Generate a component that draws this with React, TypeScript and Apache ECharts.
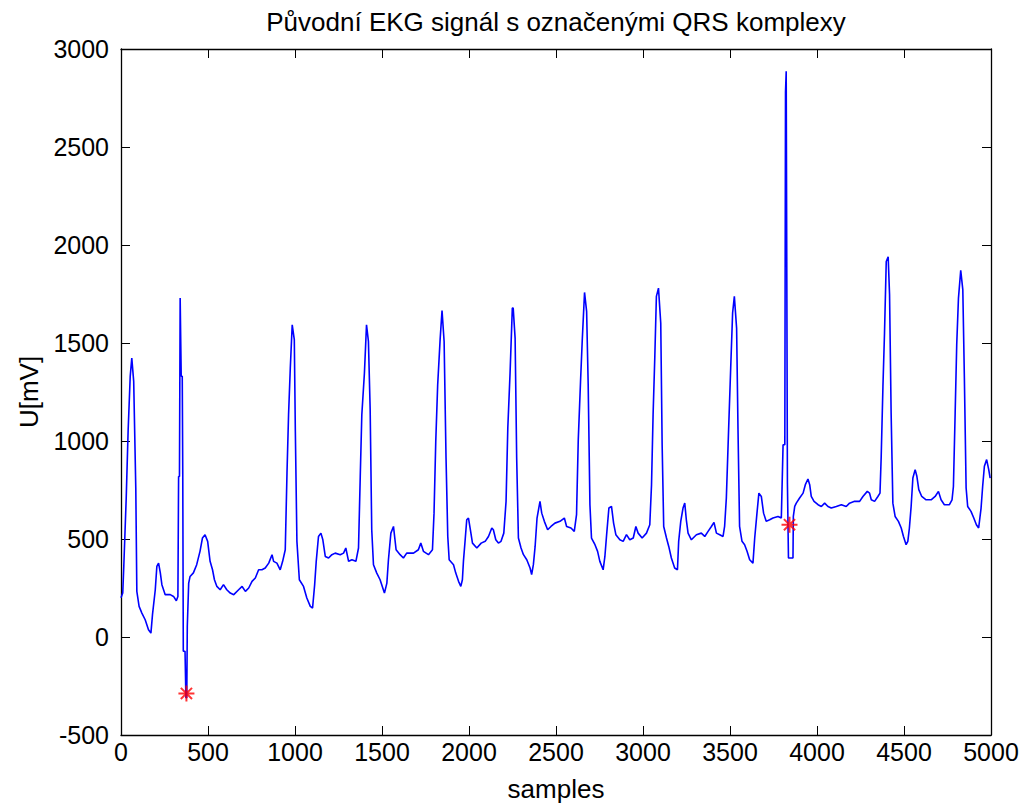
import React, { useEffect, useRef } from "react";
import * as echarts from "echarts";

// Signal (sample index, voltage in mV)
const sampleIdx = [
  0, 10, 16, 30, 41, 53, 62, 66, 73, 85, 91, 104, 120, 139, 158, 172, 181, 197, 206, 216, 226, 235, 254, 283, 302, 318, 327, 331, 336, 340, 346, 352, 355, 358, 368, 373, 378, 381, 389, 397, 416, 435, 454, 468, 483, 498, 512, 526, 537, 551, 570, 589, 608, 628,
  648, 676, 696, 715, 734, 753, 772, 791, 810, 829, 849, 868, 877, 896, 915, 929, 944, 954, 963, 973, 984, 988, 996, 1002, 1011, 1025, 1049, 1068, 1088, 1101, 1113, 1122, 1135, 1149, 1160, 1174, 1193, 1212, 1231,
  1260, 1279, 1292, 1308, 1327, 1350, 1365, 1375, 1384, 1399, 1411, 1415, 1422, 1432, 1441, 1451, 1470, 1489, 1514, 1528, 1537, 1551, 1566, 1581, 1604, 1623, 1642, 1681, 1709, 1723, 1738, 1767, 1790, 1799, 1809, 1820, 1834, 1845, 1849, 1857, 1868, 1878, 1886,
  1911, 1924, 1940, 1953, 1962, 1968, 1978, 1987, 1997, 2008, 2020, 2045, 2070, 2093, 2112, 2131, 2140, 2154, 2169, 2184, 2200, 2213, 2223, 2236, 2249, 2254, 2265, 2274, 2284, 2299, 2313, 2332, 2351, 2360, 2370, 2380, 2391, 2408, 2418, 2433, 2452, 2471, 2494, 2523,
  2548, 2561, 2586, 2605, 2618, 2628, 2641, 2651, 2664, 2668, 2676, 2685, 2695, 2704, 2724, 2739, 2752, 2771, 2781, 2791, 2804, 2819, 2831, 2844, 2867, 2886, 2905, 2924, 2944, 2959, 2972, 2995, 3020, 3039, 3049, 3058, 3068, 3077, 3089, 3093, 3102, 3110, 3119,
  3135, 3148, 3163, 3182, 3198, 3205, 3217, 3230, 3240, 3249, 3259, 3278, 3307, 3335, 3355, 3374, 3393, 3408, 3422, 3441, 3460, 3469, 3479, 3492, 3504, 3515, 3525, 3529, 3538, 3546, 3555, 3569, 3584, 3598, 3613, 3632, 3642, 3655, 3666, 3680, 3693, 3708, 3728, 3747, 3776, 3795,
  3805, 3815, 3819, 3823, 3826, 3830, 3834, 3836, 3862, 3864, 3872, 3881, 3900, 3920, 3933, 3948, 3958, 3967, 3983, 4006, 4025, 4044, 4063, 4082, 4111, 4140, 4168, 4187, 4216, 4245, 4264, 4289, 4302, 4312, 4331, 4350, 4362, 4369, 4379, 4388, 4398, 4409, 4413, 4417, 4426, 4436,
  4449, 4468, 4484, 4497, 4512, 4522, 4531, 4541, 4551, 4564, 4574, 4585, 4602, 4627, 4656, 4679, 4698, 4713, 4732, 4761, 4776, 4784, 4794, 4803, 4813, 4826, 4830, 4838, 4847, 4857, 4866, 4885, 4901, 4916, 4929, 4943, 4952, 4962, 4975, 4987, 4995,
];

const voltage = [
  200, 224, 360, 709, 1054, 1330, 1423, 1423, 1304, 760, 233, 156, 122, 88, 37, 20, 114, 241, 360, 377, 327, 267, 216, 216, 207, 185, 207, 819, 819, 1730, 1330, 1330, 830, -73, -73, -310, -310, 54, 275, 309, 327, 369, 437, 505, 522, 488, 386, 343, 292, 258, 241, 267, 241, 224,
  216, 241, 258, 233, 250, 284, 301, 343, 343, 352, 377, 420, 386, 377, 343, 386, 445, 837, 1134, 1372, 1593, 1593, 1517, 1049, 488, 292, 258, 199, 156, 148, 267, 386, 513, 530, 496, 411, 403, 420, 428,
  420, 428, 454, 386, 394, 386, 454, 819, 1134, 1347, 1593, 1593, 1508, 1160, 547, 369, 326, 292, 224, 275, 394, 530, 564, 445, 420, 403, 428, 428, 445, 479, 437, 420, 445, 632, 998, 1287, 1517, 1666, 1666, 1508, 913, 513, 394,
  369, 326, 284, 258, 292, 386, 496, 598, 607, 547, 479, 454, 479, 488, 513, 556, 547, 496, 479, 488, 530, 692, 1066, 1347, 1678, 1678, 1525, 913, 505, 454, 420, 394, 352, 318, 369, 462, 607, 692, 632, 590, 547, 564, 581, 590,
  607, 564, 556, 539, 624, 1007, 1304, 1517, 1758, 1758, 1661, 1287, 675, 505, 471, 437, 386, 343, 411, 522, 658, 666, 581, 522, 496, 488, 522, 496, 505, 564, 530, 505, 530, 573, 777, 1134, 1432, 1738, 1780, 1780, 1602, 981, 564,
  505, 462, 403, 352, 343, 488, 590, 658, 683, 598, 530, 496, 522, 530, 513, 539, 564, 585, 530, 522, 513, 564, 709, 1058, 1372, 1653, 1738, 1738, 1576, 1058, 564, 488, 471, 437, 394, 377, 505, 632, 734, 717, 632, 590, 598, 607, 615, 607,
  981, 981, 2781, 2886, 2886, 786, 786, 403, 403, 615, 666, 683, 709, 734, 777, 806, 777, 717, 692, 675, 666, 683, 666, 658, 666, 675, 666, 683, 692, 692, 717, 743, 734, 700, 692, 717, 734, 921, 1279, 1551, 1916, 1940, 1940, 1746, 1143, 683,
  615, 590, 556, 513, 471, 488, 556, 666, 811, 854, 820, 752, 717, 700, 700, 717, 743, 700, 675, 675, 700, 768, 1143, 1491, 1729, 1871, 1871, 1772, 1321, 760, 666, 641, 607, 573, 556, 658, 768, 871, 905, 854, 811,
];

// Marked QRS complexes
const qrsSamples = [376, 3842];
const qrsValues = [-288, 573];

const xTicks = [0, 5000, 500];
const yTicks = [-500, 3000, 500];

const titleText = "Původní EKG signál s označenými QRS komplexy";
const xLabel = "samples";
const yLabel = "U[mV]";

const FONT = "Liberation Sans, Arial, sans-serif";

export default function App() {
  const ref = useRef<HTMLDivElement>(null);
  useEffect(() => {
    if (!ref.current) return;
    const chart = echarts.init(ref.current, null, { renderer: "svg" });
    const signal = sampleIdx.map((s, i) => [s, voltage[i]]);
    const marks = qrsSamples.map((s, i) => [s, qrsValues[i]]);
    const tickStyle = { show: true, inside: true, length: 9, lineStyle: { color: "#000", width: 1 } };
    const lineStyle = { show: true, onZero: false, lineStyle: { color: "#000", width: 1.3 } };
    const plain = (v: number) => String(v);
    chart.setOption({
      animation: false,
      backgroundColor: "#fff",
      grid: { left: 121, top: 49, width: 870, height: 686, show: false },
      xAxis: [
        {
          type: "value",
          position: "bottom",
          min: xTicks[0],
          max: xTicks[1],
          interval: xTicks[2],
          axisLine: lineStyle,
          axisTick: tickStyle,
          splitLine: { show: false },
          axisLabel: { color: "#000", fontSize: 25, fontFamily: FONT, margin: 4, formatter: plain },
          name: xLabel,
          nameLocation: "middle",
          nameGap: 41,
          nameTextStyle: { color: "#000", fontSize: 26, fontFamily: FONT },
        },
        {
          type: "value",
          position: "top",
          min: xTicks[0],
          max: xTicks[1],
          interval: xTicks[2],
          axisLine: lineStyle,
          axisTick: tickStyle,
          splitLine: { show: false },
          axisLabel: { show: false },
          name: titleText,
          nameLocation: "middle",
          nameGap: 14,
          nameTextStyle: { color: "#000", fontSize: 26, fontFamily: FONT },
        },
      ],
      yAxis: [
        {
          type: "value",
          position: "left",
          min: yTicks[0],
          max: yTicks[1],
          interval: yTicks[2],
          axisLine: lineStyle,
          axisTick: tickStyle,
          splitLine: { show: false },
          axisLabel: { color: "#000", fontSize: 25, fontFamily: FONT, margin: 12, formatter: plain },
          name: yLabel,
          nameLocation: "middle",
          nameGap: 78,
          nameTextStyle: { color: "#000", fontSize: 26, fontFamily: FONT },
        },
        {
          type: "value",
          position: "right",
          min: yTicks[0],
          max: yTicks[1],
          interval: yTicks[2],
          axisLine: lineStyle,
          axisTick: tickStyle,
          splitLine: { show: false },
          axisLabel: { show: false },
        },
      ],
      series: [
        {
          type: "line",
          data: signal,
          showSymbol: false,
          symbol: "none",
          lineStyle: { color: "#0000ff", width: 1.6 },
          z: 2,
        },
        {
          type: "scatter",
          data: marks,
          symbol: "path://M5,0L5,10M0,5L10,5M1.5,1.5L8.5,8.5M8.5,1.5L1.5,8.5",
          symbolSize: 16,
          itemStyle: { color: "none", borderColor: "#ff0000", borderWidth: 2 },
          z: 3,
        },
      ],
    });
    return () => chart.dispose();
  }, []);
  return (
    <div
      ref={ref}
      style={{ position: "fixed", left: 0, top: 0, width: 1022, height: 810, background: "#fff" }}
    />
  );
}
